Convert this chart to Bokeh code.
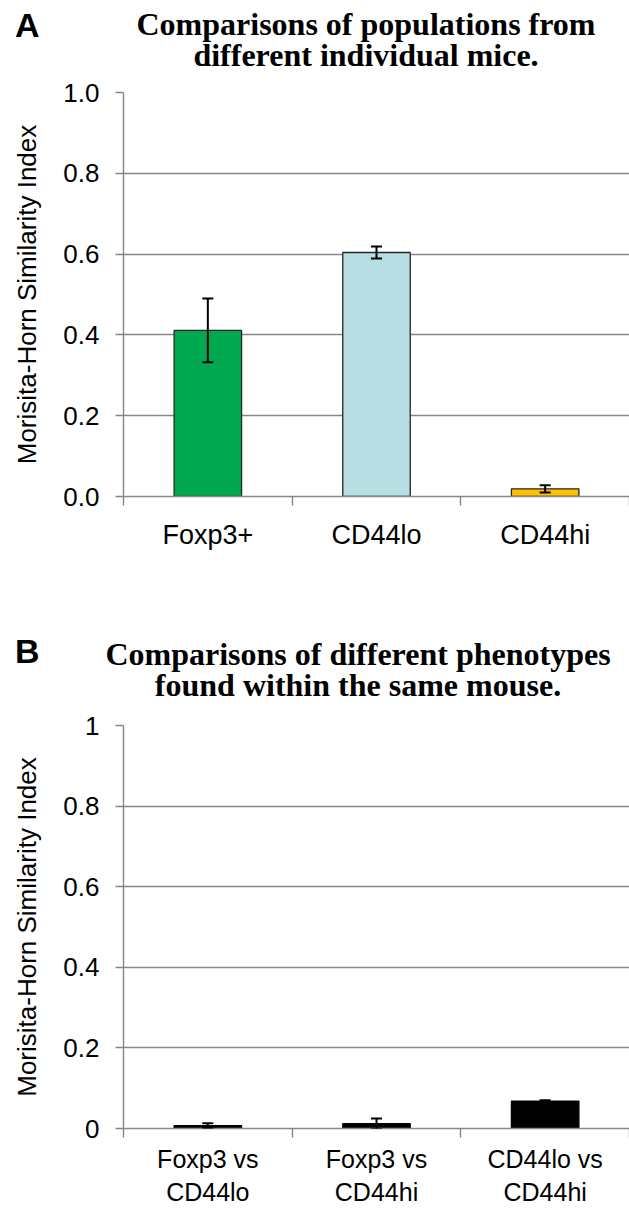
from bokeh.plotting import figure
from bokeh.layouts import column
from bokeh.models import ColumnDataSource, Range1d, FixedTicker, LinearAxis, Whisker, TeeHead, Div
from bokeh.embed import file_html
from bokeh.resources import INLINE

# Panel A: populations compared between individual mice
pop_labels = ["Foxp3+", "CD44lo", "CD44hi"]
pop_similarity = [0.411, 0.604, 0.019]
pop_error = [0.079, 0.015, 0.009]
pop_colors = ["#00a94f", "#b7dee3", "#ffc000"]

# Panel B: phenotypes compared within the same mouse
pheno_labels = ["Foxp3 vs\nCD44lo", "Foxp3 vs\nCD44hi", "CD44lo vs\nCD44hi"]
pheno_similarity = [0.007, 0.012, 0.068]
pheno_error = [0.006, 0.013, 0.002]
pheno_colors = ["#000000", "#000000", "#000000"]

y_ticks = [0.0, 0.2, 0.4, 0.6, 0.8, 1.0]
y_tick_labels_a = ["0.0", "0.2", "0.4", "0.6", "0.8", "1.0"]
y_tick_labels_b = ["0", "0.2", "0.4", "0.6", "0.8", "1"]

y_title = "Morisita-Horn Similarity Index"
title_a = ["Comparisons of populations from", "different individual mice."]
title_b = ["Comparisons of different phenotypes", "found within the same mouse."]

GRAY = "#868686"
SANS = "Liberation Sans"
SERIF = "Liberation Serif"
W = 629
LEFT = 123


def header(letter, lines, height, letter_base, first_base, center_x):
    """Panel letter and a two-line bold title; positions given as text baselines."""
    half = min(center_x, W - center_x)
    letter_html = (
        f'<div style="position:absolute;left:15px;top:{letter_base - 29}px;'
        f"font-family:'{SANS}';font-weight:bold;font-size:34px;line-height:34px;"
        f'color:black;white-space:nowrap;">{letter}</div>'
    )
    title_html = (
        f'<div style="position:absolute;left:{center_x - half}px;width:{2 * half}px;'
        f'top:{first_base - 26}px;text-align:center;'
        f"font-family:'{SERIF}';font-weight:bold;font-size:32px;line-height:31px;"
        f'color:black;white-space:nowrap;">' + "<br>".join(lines) + "</div>"
    )
    html = (f'<div style="position:relative;width:{W}px;height:{height}px;overflow:hidden;">'
            + letter_html + title_html + "</div>")
    return Div(text=html, width=W, height=height, margin=0)


def panel(labels, values, errors, colors, outline, tick_labels, height, top, bottom,
          tick_font, label_standoff):
    n = len(labels)
    centers = [i + 0.5 for i in range(n)]
    bounds = list(range(n + 1))
    p = figure(width=W, height=height, x_range=Range1d(0, n), y_range=Range1d(0, 1),
               x_axis_location=None, output_backend="svg", toolbar_location=None,
               min_border_left=LEFT, min_border_right=0,
               min_border_top=top, min_border_bottom=bottom)
    p.outline_line_color = None
    p.xgrid.visible = False
    p.ygrid.grid_line_color = GRAY
    p.ygrid.grid_line_width = 1.4
    p.ygrid.ticker = FixedTicker(ticks=y_ticks)

    ya = p.yaxis[0]
    ya.ticker = FixedTicker(ticks=y_ticks)
    ya.major_label_overrides = {t: s for t, s in zip(y_ticks, tick_labels)}
    ya.axis_line_color = GRAY
    ya.axis_line_width = 1.4
    ya.major_tick_line_color = GRAY
    ya.major_tick_line_width = 1.4
    ya.major_tick_in = 0
    ya.major_tick_out = 8
    ya.minor_tick_line_color = None
    ya.major_label_standoff = 16
    ya.major_label_text_font = SANS
    ya.major_label_text_font_size = "26px"
    ya.major_label_text_color = "black"
    ya.axis_label = y_title
    ya.axis_label_text_font = SANS
    ya.axis_label_text_font_size = "26px"
    ya.axis_label_text_font_style = "normal"
    ya.axis_label_text_color = "black"
    ya.axis_label_standoff = 18

    # category names at bar centres, separator ticks between categories
    xa = LinearAxis(ticker=FixedTicker(ticks=centers, minor_ticks=bounds))
    xa.major_label_overrides = {c: s for c, s in zip(centers, labels)}
    xa.axis_line_color = GRAY
    xa.axis_line_width = 1.4
    xa.major_tick_line_color = None
    xa.major_tick_in = 0
    xa.major_tick_out = 0
    xa.minor_tick_line_color = GRAY
    xa.minor_tick_line_width = 1.4
    xa.minor_tick_in = 0
    xa.minor_tick_out = 9
    xa.major_label_standoff = label_standoff
    xa.major_label_text_font = SANS
    xa.major_label_text_font_size = tick_font
    xa.major_label_text_color = "black"
    p.add_layout(xa, "below")

    src = ColumnDataSource(dict(x=centers, top=values, color=colors,
                                upper=[v + e for v, e in zip(values, errors)],
                                lower=[v - e for v, e in zip(values, errors)]))
    p.vbar(x="x", top="top", width=0.4, bottom=0, fill_color="color",
           line_color=outline, line_width=1.3, source=src)
    p.add_layout(Whisker(source=src, base="x", upper="upper", lower="lower",
                         level="annotation", line_color="black", line_width=2,
                         upper_head=TeeHead(size=11, line_color="black", line_width=2),
                         lower_head=TeeHead(size=11, line_color="black", line_width=2)))
    return p


ha = header("A", title_a, 76, 37, 35, 366)
pa = panel(pop_labels, pop_similarity, pop_error, pop_colors, "#262626", y_tick_labels_a,
           544, 16, 124, "27px", 14)
hb = header("B", title_b, 90, 43, 45, 358)
pb = panel(pheno_labels, pheno_similarity, pheno_error, pheno_colors, "black", y_tick_labels_b,
           499, 15, 81, "25px", 7)

layout = column(ha, pa, hb, pb, spacing=0)
open("out.html", "w").write(file_html(layout, INLINE))
